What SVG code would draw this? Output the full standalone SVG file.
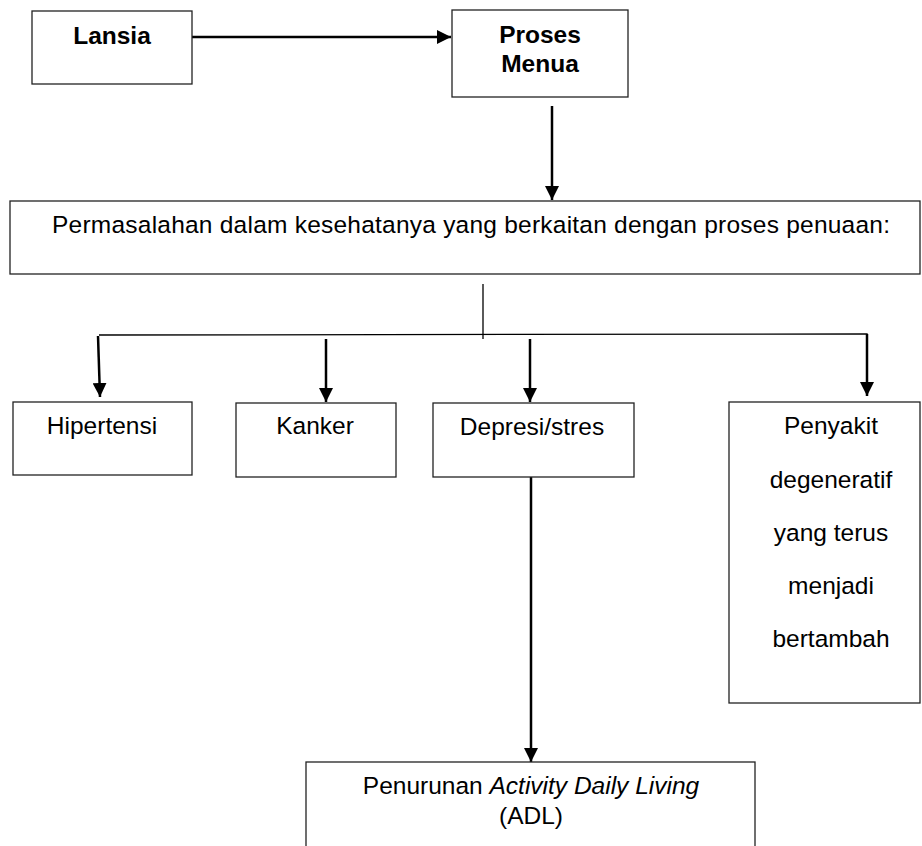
<svg xmlns="http://www.w3.org/2000/svg" width="922" height="846" viewBox="0 0 922 846">
<style>
.box{fill:#fff;stroke:#222;stroke-width:1.3}
.t{font-family:"Liberation Sans",Arial,sans-serif;font-size:24.5px;fill:#000}
.b{font-weight:bold}
.arr{stroke:#000;stroke-width:2.5;fill:none;marker-end:url(#ah)}
.thin{stroke:#000;stroke-width:1.3;fill:none}
</style>
<defs>
<marker id="ah" markerUnits="userSpaceOnUse" markerWidth="14" markerHeight="14" refX="14" refY="7" orient="auto">
<path d="M0,0 L14,7 L0,14 z" fill="#000"/>
</marker>
</defs>
<rect width="922" height="846" fill="#fff"/>
<g id="connectors">
<line class="arr" x1="191" y1="37" x2="451" y2="37"/>
<line class="arr" x1="552" y1="106" x2="552" y2="200"/>
<line class="thin" x1="483" y1="284" x2="483" y2="339"/>
<polyline class="thin" points="99,335 867,334 867,338"/>
<line class="arr" x1="98" y1="336" x2="100" y2="397"/>
<line class="arr" x1="326" y1="339" x2="326" y2="402"/>
<line class="arr" x1="530" y1="339" x2="530" y2="402"/>
<line class="arr" x1="867" y1="334" x2="867" y2="396"/>
<line class="arr" x1="531" y1="477" x2="531" y2="762"/>
</g>
<g id="lansia">
<rect class="box" x="32" y="11" width="160" height="73"/>
<text class="t b" x="112" y="44" text-anchor="middle">Lansia</text>
</g>
<g id="proses-menua">
<rect class="box" x="452" y="10" width="176" height="87"/>
<text class="t b" x="540" y="43" text-anchor="middle">Proses</text>
<text class="t b" x="540" y="72" text-anchor="middle">Menua</text>
</g>
<g id="permasalahan">
<rect class="box" x="10" y="201" width="910" height="73"/>
<text class="t" x="52" y="233" textLength="838" lengthAdjust="spacing">Permasalahan dalam kesehatanya yang berkaitan dengan proses penuaan:</text>
</g>
<g id="hipertensi">
<rect class="box" x="13" y="402" width="179" height="73"/>
<text class="t" x="102" y="434" text-anchor="middle">Hipertensi</text>
</g>
<g id="kanker">
<rect class="box" x="236" y="403" width="160" height="74"/>
<text class="t" x="315" y="434" text-anchor="middle">Kanker</text>
</g>
<g id="depresi">
<rect class="box" x="433" y="403" width="201" height="74"/>
<text class="t" x="532" y="435" text-anchor="middle">Depresi/stres</text>
</g>
<g id="penyakit">
<rect class="box" x="729" y="402" width="191" height="301"/>
<text class="t" x="831" y="434" text-anchor="middle">Penyakit</text>
<text class="t" x="831" y="488" text-anchor="middle">degeneratif</text>
<text class="t" x="831" y="541" text-anchor="middle">yang terus</text>
<text class="t" x="831" y="594" text-anchor="middle">menjadi</text>
<text class="t" x="831" y="647" text-anchor="middle">bertambah</text>
</g>
<g id="penurunan">
<rect class="box" x="306" y="762" width="449" height="100"/>
<text class="t" x="531" y="794" text-anchor="middle">Penurunan <tspan font-style="italic">Activity Daily Living</tspan></text>
<text class="t" x="531" y="824" text-anchor="middle">(ADL)</text>
</g>
</svg>
